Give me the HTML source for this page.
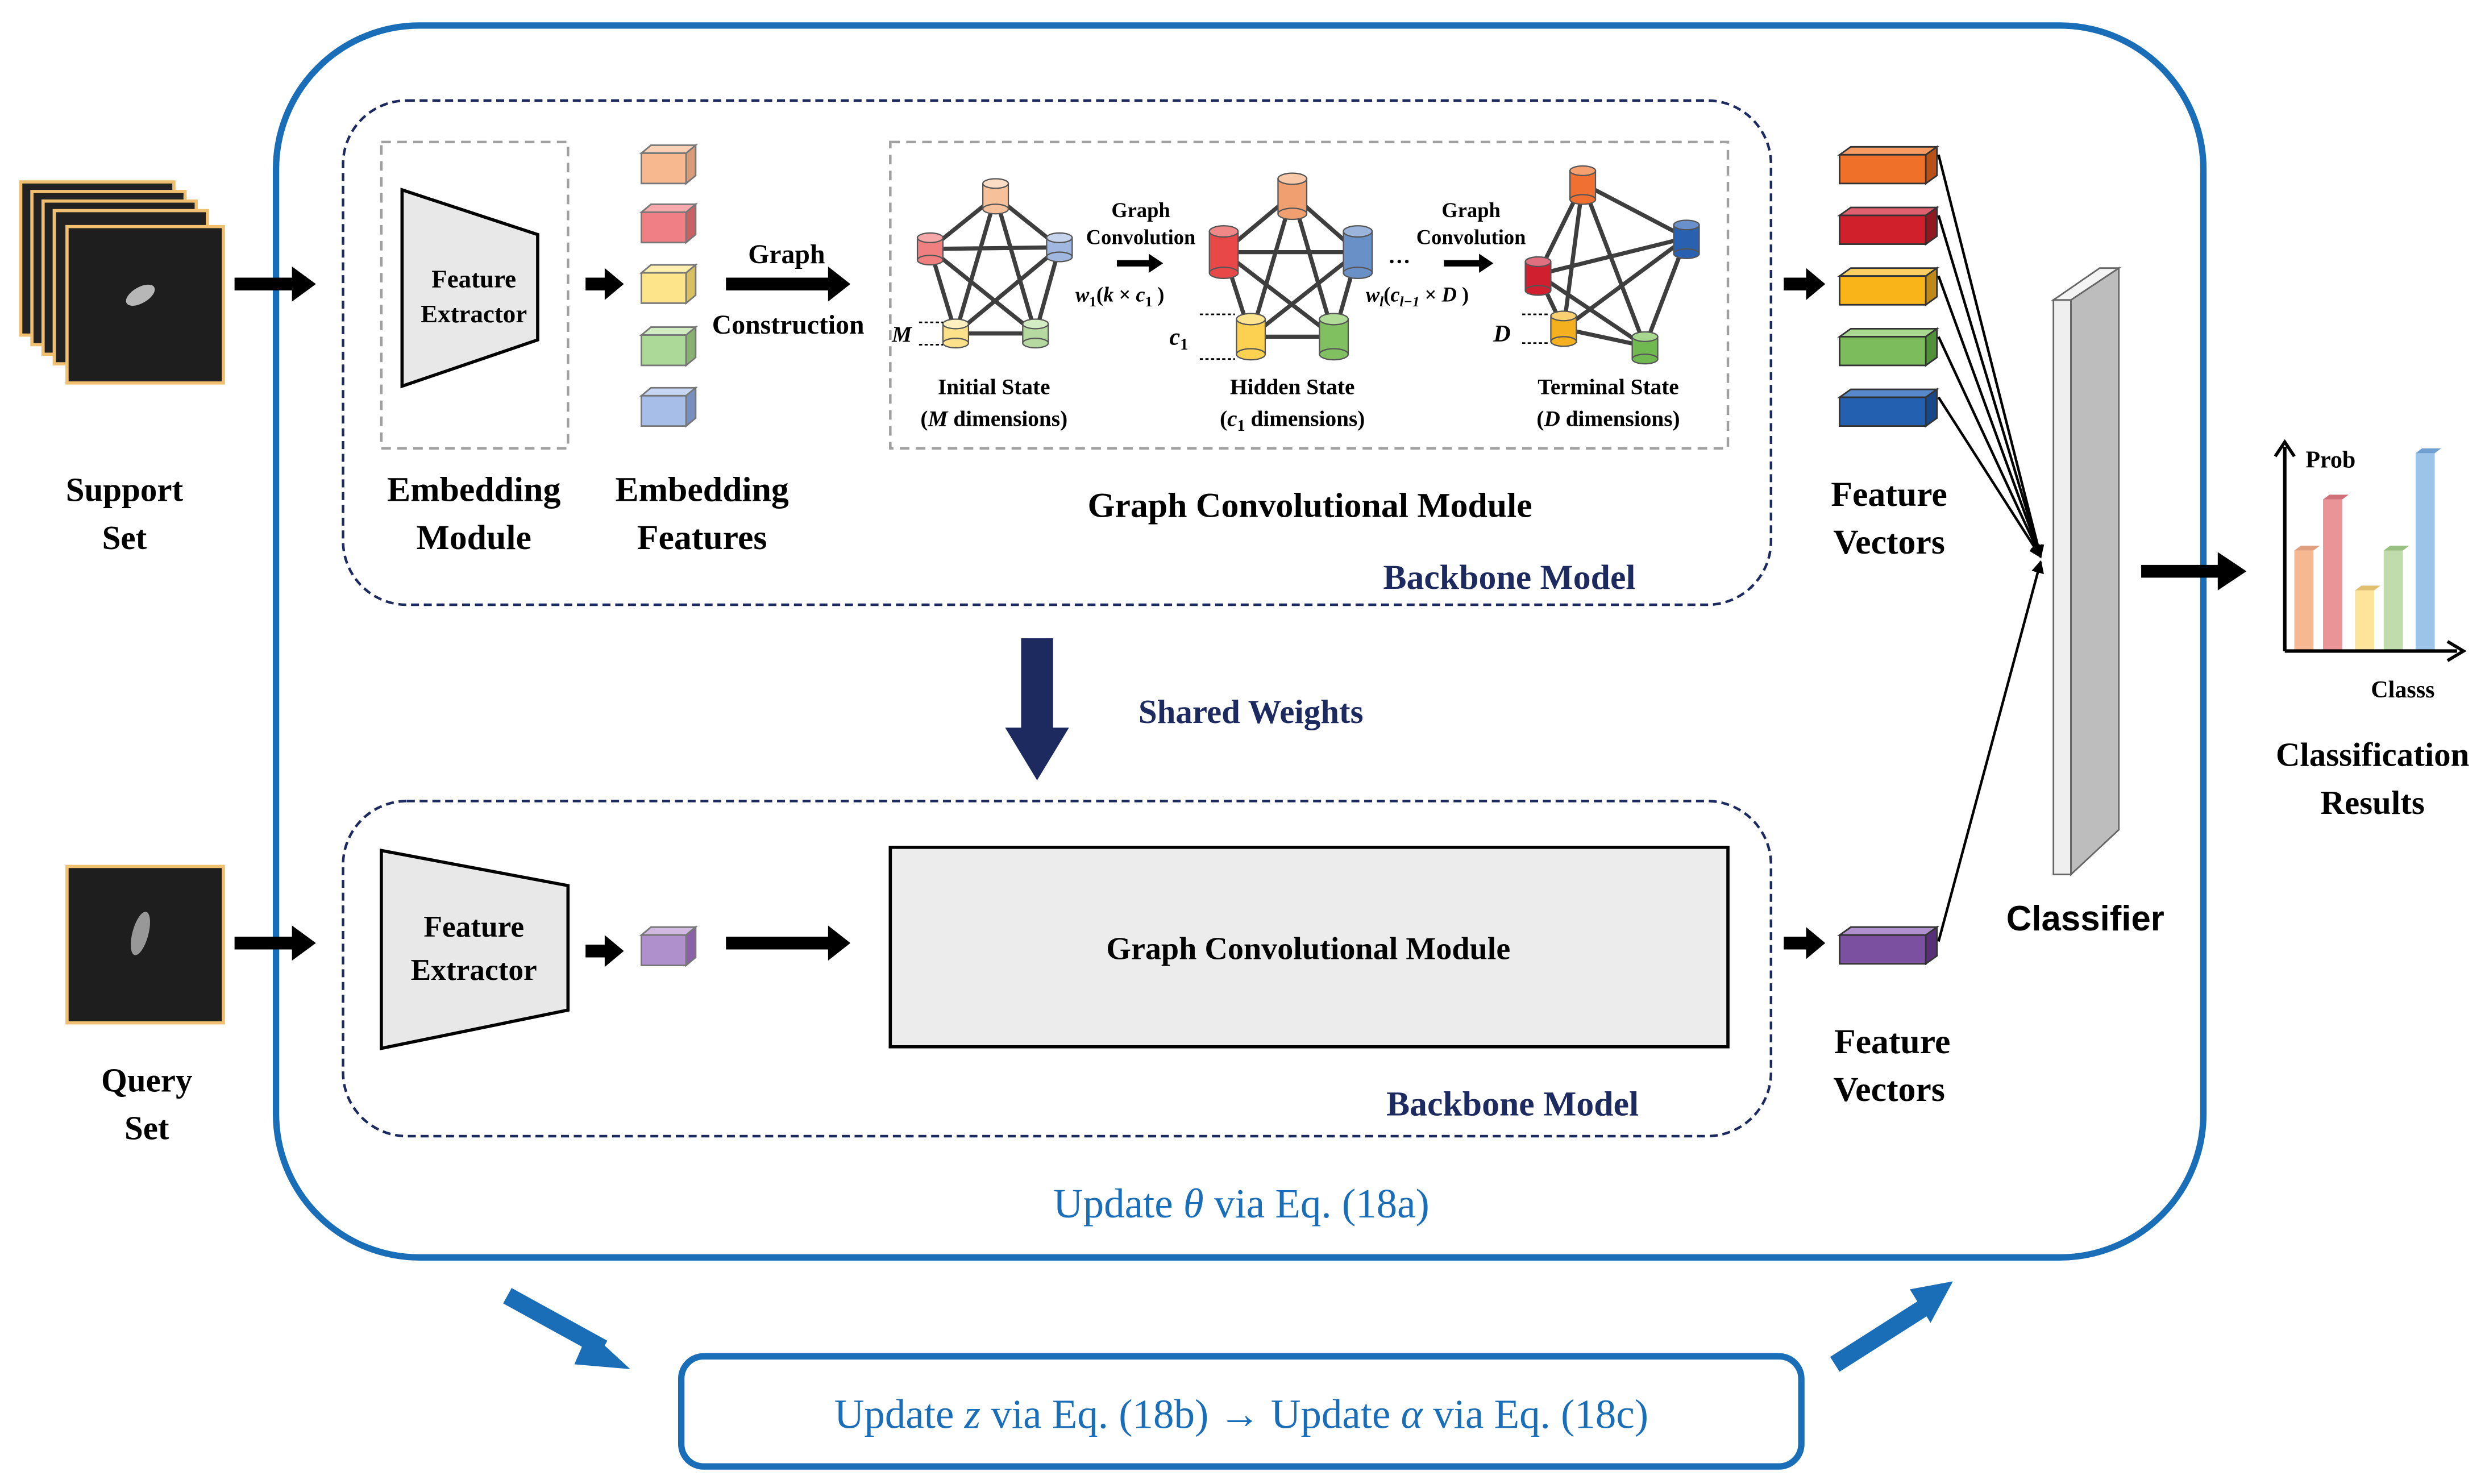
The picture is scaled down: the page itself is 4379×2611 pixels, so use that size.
<!DOCTYPE html>
<html><head><meta charset="utf-8"><style>
html,body{margin:0;padding:0;background:#fff}
svg{display:block}
text{font-family:"Liberation Serif",serif;font-weight:bold}
text.n{font-weight:normal}
</style></head><body>
<svg width="4379" height="2611" viewBox="0 0 1560 930" preserveAspectRatio="none" xmlns="http://www.w3.org/2000/svg">
<defs>
<marker id="ah" markerWidth="8" markerHeight="8" refX="7" refY="4" orient="auto" markerUnits="userSpaceOnUse"><path d="M0,0 L8,4 L0,8 Z" fill="#000"/></marker>
</defs>
<rect width="1560" height="930" fill="#fff"/>
<rect x="173" y="16" width="1208" height="772" rx="90" fill="none" stroke="#1a6eb8" stroke-width="4"/>
<rect x="215" y="63" width="895" height="316" rx="40" fill="none" stroke="#1c2a60" stroke-width="1.6" stroke-dasharray="5,3"/>
<rect x="215" y="502" width="895" height="210" rx="40" fill="none" stroke="#1c2a60" stroke-width="1.6" stroke-dasharray="5,3"/>
<rect x="239" y="89" width="117" height="192" fill="none" stroke="#a0a0a0" stroke-width="1.6" stroke-dasharray="6,4"/>
<rect x="558" y="89" width="525" height="192" fill="none" stroke="#a0a0a0" stroke-width="1.6" stroke-dasharray="6,4"/>

<g stroke="#f0c070" stroke-width="2" fill="#222">
<rect x="13" y="114" width="96" height="96"/><rect x="20" y="120" width="96" height="96"/><rect x="27" y="126" width="96" height="96"/><rect x="34" y="132" width="96" height="96"/><rect x="42" y="142" width="98" height="98" fill="#1e1e1e"/>
</g>
<ellipse cx="88" cy="185" rx="10" ry="5" fill="#ddd" opacity="0.8" transform="rotate(-30 88 185)"/>
<rect x="42" y="543" width="98" height="98" fill="#1e1e1e" stroke="#f0c070" stroke-width="2"/>
<ellipse cx="88" cy="585" rx="5" ry="14" fill="#ccc" opacity="0.7" transform="rotate(15 88 585)"/>

<text x="78" y="314" font-size="21" text-anchor="middle">Support</text>
<text x="78" y="344" font-size="21" text-anchor="middle">Set</text>
<text x="92" y="684" font-size="21" text-anchor="middle">Query</text>
<text x="92" y="714" font-size="21" text-anchor="middle">Set</text>

<g fill="#000">
<path d="M147,174 h36 v-7 l15,11 l-15,11 v-7 h-36z"/>
<path d="M147,587 h36 v-7 l15,11 l-15,11 v-7 h-36z"/>
<path d="M367,174 h12 v-6 l12,10 l-12,10 v-6 h-12z"/>
<path d="M367,592 h12 v-6 l12,10 l-12,10 v-6 h-12z"/>
<path d="M455,174 h64 v-7 l14,11 l-14,11 v-7 h-64z"/>
<path d="M455,587 h64 v-7 l14,11 l-14,11 v-7 h-64z"/>
<path d="M1118,174 h14 v-6 l12,10 l-12,10 v-6 h-14z"/>
<path d="M1118,587 h14 v-6 l12,10 l-12,10 v-6 h-14z"/>
<path d="M1342,354 h48 v-8 l18,12 l-18,12 v-8 h-48z"/>
<path d="M700,163 h20 v-4 l9,6 l-9,6 v-4 h-20z"/>
<path d="M905,163 h22 v-4 l9,6 l-9,6 v-4 h-22z"/>
</g>

<polygon points="252,119 337,147 337,213 252,242" fill="#e8e8e8" stroke="#000" stroke-width="2"/>
<text x="297" y="180" font-size="16" text-anchor="middle">Feature</text>
<text x="297" y="202" font-size="16" text-anchor="middle">Extractor</text>
<polygon points="239,533 356,555 356,633 239,657" fill="#e8e8e8" stroke="#000" stroke-width="2"/>
<text x="297" y="587" font-size="19" text-anchor="middle">Feature</text>
<text x="297" y="614" font-size="19" text-anchor="middle">Extractor</text>

<text x="297" y="314" font-size="22" text-anchor="middle">Embedding</text>
<text x="297" y="344" font-size="22" text-anchor="middle">Module</text>
<text x="440" y="314" font-size="22" text-anchor="middle">Embedding</text>
<text x="440" y="344" font-size="22" text-anchor="middle">Features</text>

<g stroke="#777" stroke-width="1">
<g><polygon points="402,96 408,91 436,91 430,96" fill="#fbd0b4"/><polygon points="430,96 436,91 436,110 430,115" fill="#d89a78"/><rect x="402" y="96" width="28" height="19" fill="#f7b890"/></g>
<g><polygon points="402,133 408,128 436,128 430,133" fill="#f6a8aa"/><polygon points="430,133 436,128 436,147 430,152" fill="#c96064"/><rect x="402" y="133" width="28" height="19" fill="#ef7f84"/></g>
<g><polygon points="402,171 408,166 436,166 430,171" fill="#fff0b0"/><polygon points="430,171 436,166 436,185 430,190" fill="#d8c060"/><rect x="402" y="171" width="28" height="19" fill="#fde48a"/></g>
<g><polygon points="402,210 408,205 436,205 430,210" fill="#d0ecc0"/><polygon points="430,210 436,205 436,224 430,229" fill="#88b070"/><rect x="402" y="210" width="28" height="19" fill="#acd898"/></g>
<g><polygon points="402,248 408,243 436,243 430,248" fill="#c8d8f4"/><polygon points="430,248 436,243 436,262 430,267" fill="#7890c0"/><rect x="402" y="248" width="28" height="19" fill="#a6bee8"/></g>
<g><polygon points="402,586 408,581 436,581 430,586" fill="#d0b8e0"/><polygon points="430,586 436,581 436,600 430,605" fill="#8a60a8"/><rect x="402" y="586" width="28" height="19" fill="#b090cc"/></g>
</g>

<text x="493" y="165" font-size="17" text-anchor="middle">Graph</text>
<text x="494" y="209" font-size="17" text-anchor="middle">Construction</text>

<g stroke="#2a2a2a" stroke-width="2.6" opacity="0.9">
<path d="M624,123 L583,156 M624,123 L664,155 M624,123 L599,209 M624,123 L649,209 M583,156 L664,155 M583,156 L599,209 M583,156 L649,209 M664,155 L599,209 M664,155 L649,209 M599,209 L649,209"/>
<path d="M810,122 L767,158 M810,122 L851,158 M810,122 L784,211 M810,122 L836,211 M767,158 L851,158 M767,158 L784,211 M767,158 L836,211 M851,158 L784,211 M851,158 L836,211 M784,211 L836,211"/>
<path d="M992,115 L1057,149 M992,115 L964,172 M992,115 L980,206 M992,115 L1031,217 M1057,149 L964,172 M1057,149 L980,206 M1057,149 L1031,217 M964,172 L980,206 M964,172 L1031,217 M980,206 L1031,217"/>
</g>
<g stroke="#555" stroke-width="0.8">
<rect x="616" y="115" width="16" height="16" fill="#f5c09a"/><ellipse cx="624" cy="131" rx="8" ry="3" fill="#f5c09a"/><ellipse cx="624" cy="115" rx="8" ry="3" fill="#fbdcc4"/>
<rect x="575" y="149" width="16" height="14" fill="#f08080"/><ellipse cx="583" cy="163" rx="8" ry="3" fill="#f08080"/><ellipse cx="583" cy="149" rx="8" ry="3" fill="#f6a8a8"/>
<rect x="656" y="149" width="16" height="12" fill="#a0b8e0"/><ellipse cx="664" cy="161" rx="8" ry="3" fill="#a0b8e0"/><ellipse cx="664" cy="149" rx="8" ry="3" fill="#c6d4ee"/>
<rect x="591" y="203" width="16" height="12" fill="#fde08a"/><ellipse cx="599" cy="215" rx="8" ry="3" fill="#fde08a"/><ellipse cx="599" cy="203" rx="8" ry="3" fill="#fff0c0"/>
<rect x="641" y="203" width="16" height="12" fill="#b5d9a0"/><ellipse cx="649" cy="215" rx="8" ry="3" fill="#b5d9a0"/><ellipse cx="649" cy="203" rx="8" ry="3" fill="#d4ecc4"/>
<rect x="801" y="112" width="18" height="22" fill="#f0a070"/><ellipse cx="810" cy="134" rx="9" ry="3.5" fill="#f0a070"/><ellipse cx="810" cy="112" rx="9" ry="3.5" fill="#f8c8a8"/>
<rect x="758" y="145" width="18" height="26" fill="#e84848"/><ellipse cx="767" cy="171" rx="9" ry="3.5" fill="#e84848"/><ellipse cx="767" cy="145" rx="9" ry="3.5" fill="#f08888"/>
<rect x="842" y="145" width="18" height="26" fill="#6a90c8"/><ellipse cx="851" cy="171" rx="9" ry="3.5" fill="#6a90c8"/><ellipse cx="851" cy="145" rx="9" ry="3.5" fill="#9ab4dc"/>
<rect x="775" y="200" width="18" height="22" fill="#fcd050"/><ellipse cx="784" cy="222" rx="9" ry="3.5" fill="#fcd050"/><ellipse cx="784" cy="200" rx="9" ry="3.5" fill="#fde490"/>
<rect x="827" y="200" width="18" height="22" fill="#80c060"/><ellipse cx="836" cy="222" rx="9" ry="3.5" fill="#80c060"/><ellipse cx="836" cy="200" rx="9" ry="3.5" fill="#b0dc98"/>
<rect x="984" y="107" width="16" height="18" fill="#ef7030"/><ellipse cx="992" cy="125" rx="8" ry="3" fill="#ef7030"/><ellipse cx="992" cy="107" rx="8" ry="3" fill="#f6a070"/>
<rect x="1049" y="141" width="16" height="18" fill="#2a60b0"/><ellipse cx="1057" cy="159" rx="8" ry="3" fill="#2a60b0"/><ellipse cx="1057" cy="141" rx="8" ry="3" fill="#6a90cc"/>
<rect x="956" y="164" width="16" height="18" fill="#d02030"/><ellipse cx="964" cy="182" rx="8" ry="3" fill="#d02030"/><ellipse cx="964" cy="164" rx="8" ry="3" fill="#e07080"/>
<rect x="972" y="198" width="16" height="16" fill="#f5b020"/><ellipse cx="980" cy="214" rx="8" ry="3" fill="#f5b020"/><ellipse cx="980" cy="198" rx="8" ry="3" fill="#fad070"/>
<rect x="1023" y="211" width="16" height="14" fill="#70b850"/><ellipse cx="1031" cy="225" rx="8" ry="3" fill="#70b850"/><ellipse cx="1031" cy="211" rx="8" ry="3" fill="#a8d890"/>
</g>
<g stroke="#000" stroke-width="1" stroke-dasharray="2,1.5">
<path d="M576,202 h15 M576,216 h15 M752,197 h22 M752,225 h22 M954,197 h17 M954,215 h17"/>
</g>
<g font-style="italic">
<text x="559" y="214" font-size="14">M</text>
<text x="733" y="216" font-size="15">c<tspan font-size="10" dy="3" font-style="normal">1</tspan></text>
<text x="936" y="214" font-size="15">D</text>
</g>
<text x="715" y="136" font-size="13" text-anchor="middle">Graph</text>
<text x="715" y="153" font-size="13" text-anchor="middle">Convolution</text>
<text x="922" y="136" font-size="13" text-anchor="middle">Graph</text>
<text x="922" y="153" font-size="13" text-anchor="middle">Convolution</text>
<text x="870" y="165" font-size="14">…</text>
<text x="674" y="189" font-size="13"><tspan font-style="italic">w</tspan><tspan font-size="9" dy="3">1</tspan><tspan dy="-3">(</tspan><tspan font-style="italic">k</tspan> × <tspan font-style="italic">c</tspan><tspan font-size="9" dy="3">1</tspan><tspan dy="-3"> )</tspan></text>
<text x="856" y="189" font-size="13"><tspan font-style="italic">w</tspan><tspan font-size="9" dy="3" font-style="italic">l</tspan><tspan dy="-3">(</tspan><tspan font-style="italic">c</tspan><tspan font-size="9" dy="3" font-style="italic">l−1</tspan><tspan dy="-3"> × </tspan><tspan font-style="italic">D</tspan> )</text>
<text x="623" y="247" font-size="14" text-anchor="middle">Initial State</text>
<text x="623" y="267" font-size="14" text-anchor="middle">(<tspan font-style="italic">M</tspan> dimensions)</text>
<text x="810" y="247" font-size="14" text-anchor="middle">Hidden State</text>
<text x="810" y="267" font-size="14" text-anchor="middle">(<tspan font-style="italic">c</tspan><tspan font-size="10" dy="3">1</tspan><tspan dy="-3"> dimensions)</tspan></text>
<text x="1008" y="247" font-size="14" text-anchor="middle">Terminal State</text>
<text x="1008" y="267" font-size="14" text-anchor="middle">(<tspan font-style="italic">D</tspan> dimensions)</text>

<text x="821" y="324" font-size="22" text-anchor="middle">Graph Convolutional Module</text>
<text x="946" y="369" font-size="22" text-anchor="middle" fill="#1c2a60">Backbone Model</text>
<text x="948" y="699" font-size="22" text-anchor="middle" fill="#1c2a60">Backbone Model</text>

<path d="M640,400 h20 v56 h10 l-20,33 l-20,-33 h10z" fill="#1c2a60"/>
<text x="784" y="453" font-size="21" fill="#1c2a60" text-anchor="middle">Shared Weights</text>

<rect x="558" y="531" width="525" height="125" fill="#ececec" stroke="#000" stroke-width="2"/>
<text x="820" y="601" font-size="20" text-anchor="middle">Graph Convolutional Module</text>

<g stroke="#333" stroke-width="1">
<g><polygon points="1153,97 1160,92 1214,92 1207,97" fill="#f59a60"/><polygon points="1207,97 1214,92 1214,110 1207,115" fill="#b85018"/><rect x="1153" y="97" width="54" height="18" fill="#ef7028"/></g>
<g><polygon points="1153,135 1160,130 1214,130 1207,135" fill="#e06070"/><polygon points="1207,135 1214,130 1214,148 1207,153" fill="#901820"/><rect x="1153" y="135" width="54" height="18" fill="#d0202c"/></g>
<g><polygon points="1153,173 1160,168 1214,168 1207,173" fill="#fcd060"/><polygon points="1207,173 1214,168 1214,186 1207,191" fill="#c08818"/><rect x="1153" y="173" width="54" height="18" fill="#f8b418"/></g>
<g><polygon points="1153,211 1160,206 1214,206 1207,211" fill="#a8d890"/><polygon points="1207,211 1214,206 1214,224 1207,229" fill="#509038"/><rect x="1153" y="211" width="54" height="18" fill="#7cbc5c"/></g>
<g><polygon points="1153,249 1160,244 1214,244 1207,249" fill="#5888cc"/><polygon points="1207,249 1214,244 1214,262 1207,267" fill="#184888"/><rect x="1153" y="249" width="54" height="18" fill="#2460b0"/></g>
<g><polygon points="1153,586 1160,581 1214,581 1207,586" fill="#b090cc"/><polygon points="1207,586 1214,581 1214,599 1207,604" fill="#583078"/><rect x="1153" y="586" width="54" height="18" fill="#7c50a0"/></g>
</g>
<g stroke="#000" stroke-width="1.6" marker-end="url(#ah)" fill="none">
<path d="M1215,97 L1279,349"/><path d="M1215,135 L1279,349"/><path d="M1215,173 L1279,349"/><path d="M1215,211 L1279,349"/><path d="M1215,249 L1279,349"/><path d="M1215,590 L1279,352"/>
</g>
<text x="1184" y="317" font-size="22" text-anchor="middle">Feature</text>
<text x="1184" y="347" font-size="22" text-anchor="middle">Vectors</text>
<text x="1186" y="660" font-size="22" text-anchor="middle">Feature</text>
<text x="1184" y="690" font-size="22" text-anchor="middle">Vectors</text>

<polygon points="1287,188 1316,168 1328,168 1298,188" fill="#f4f4f4" stroke="#666" stroke-width="1"/>
<rect x="1287" y="188" width="11" height="360" fill="#efefef" stroke="#666" stroke-width="1"/>
<polygon points="1298,188 1328,168 1328,520 1298,548" fill="#bdbdbd" stroke="#666" stroke-width="1"/>
<text x="1307" y="583" font-size="22" text-anchor="middle" style="font-family:'Liberation Sans',sans-serif">Classifier</text>

<g>
<rect x="1438" y="345" width="12" height="63" fill="#f5b890"/><polygon points="1438,345 1442,342 1454,342 1450,345" fill="#e0a080"/>
<rect x="1456" y="313" width="12" height="95" fill="#eb9498"/><polygon points="1456,313 1460,310 1472,310 1468,313" fill="#d07078"/>
<rect x="1476" y="370" width="12" height="38" fill="#fde49a"/><polygon points="1476,370 1480,367 1492,367 1488,370" fill="#e0c070"/>
<rect x="1494" y="345" width="12" height="63" fill="#c0dcac"/><polygon points="1494,345 1498,342 1510,342 1506,345" fill="#98c080"/>
<rect x="1514" y="284" width="12" height="124" fill="#9cc4e8"/><polygon points="1514,284 1518,281 1530,281 1526,284" fill="#70a0d0"/>
</g>
<path d="M1432,408 V280 M1432,408 H1540" stroke="#000" stroke-width="2.2" fill="none"/>
<path d="M1426,286 L1432,277 L1438,286" stroke="#000" stroke-width="2" fill="none"/>
<path d="M1534,402 L1544,408 L1534,414" stroke="#000" stroke-width="2" fill="none"/>
<text x="1445" y="293" font-size="15">Prob</text>
<text x="1486" y="437" font-size="15">Classs</text>
<text x="1487" y="480" font-size="21" text-anchor="middle">Classification</text>
<text x="1487" y="510" font-size="21" text-anchor="middle">Results</text>

<text class="n" x="778" y="763" font-size="26" fill="#1a6eb8" text-anchor="middle">Update <tspan font-style="italic">θ</tspan> via Eq. (18a)</text>
<rect x="427" y="850" width="702" height="69" rx="14" fill="none" stroke="#1a6eb8" stroke-width="4"/>
<text class="n" x="778" y="895" font-size="26" fill="#1a6eb8" text-anchor="middle">Update <tspan font-style="italic">z</tspan> via Eq. (18b) → Update <tspan font-style="italic">α</tspan> via Eq. (18c)</text>
<path d="M318,812 L378,845" stroke="#1a6eb8" stroke-width="11" fill="none"/>
<polygon points="369,834 395,858 360,855" fill="#1a6eb8"/>
<path d="M1150,855 L1205,820" stroke="#1a6eb8" stroke-width="11" fill="none"/>
<polygon points="1197,808 1224,803 1210,829" fill="#1a6eb8"/>
</svg>
</body></html>
